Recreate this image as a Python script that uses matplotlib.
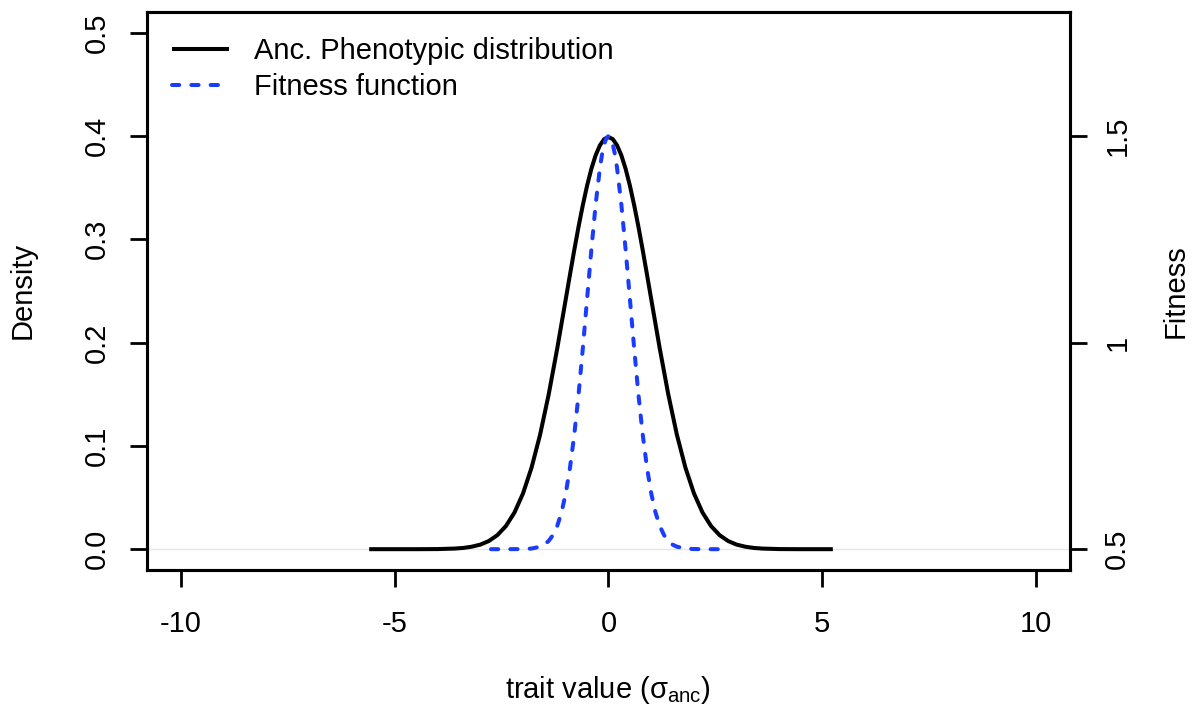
import numpy as np
import matplotlib
matplotlib.use("Agg")
from matplotlib import pyplot as plt

# ancestral phenotypic distribution (density)
anc_x = [-5.6, -4.5, -4.0, -3.6, -3.4, -3.2, -3.0, -2.8, -2.6, -2.4, -2.2, -2.0,
         -1.8, -1.6, -1.4, -1.2, -1.0, -0.9, -0.8, -0.7, -0.6, -0.5, -0.4, -0.3, -0.2, -0.1, 0.0,
         0.1, 0.2, 0.3, 0.4, 0.5, 0.6, 0.7, 0.8, 0.9, 1.0, 1.2, 1.4, 1.6, 1.8, 2.0, 2.2, 2.4,
         2.6, 2.8, 3.0, 3.2, 3.4, 3.6, 4.0, 4.5, 5.25]
anc_density = [0.0, 0.0, 0.0001, 0.0006, 0.0012, 0.0024, 0.0044, 0.0079, 0.0136, 0.0224, 0.0355, 0.054,
               0.079, 0.1109, 0.1497, 0.1942, 0.242, 0.2661, 0.2897, 0.3123, 0.3332, 0.3521, 0.3683,
               0.3814, 0.391, 0.397, 0.3989,
               0.397, 0.391, 0.3814, 0.3683, 0.3521, 0.3332, 0.3123, 0.2897, 0.2661, 0.242, 0.1942,
               0.1497, 0.1109, 0.079, 0.054, 0.0355, 0.0224,
               0.0136, 0.0079, 0.0044, 0.0024, 0.0012, 0.0006, 0.0001, 0.0, 0.0]

# fitness function (right axis)
fit_x = [-2.75, -2.4, -2.0, -1.8, -1.6, -1.5, -1.4, -1.3, -1.2, -1.1, -1.0, -0.9, -0.8, -0.7,
         -0.6, -0.5, -0.4, -0.3, -0.2, -0.15, -0.1, -0.05, 0.0, 0.05, 0.1, 0.15, 0.2, 0.3, 0.4,
         0.5, 0.6, 0.7, 0.8, 0.9, 1.0, 1.1, 1.2, 1.3, 1.4, 1.5, 1.6, 1.8, 2.0, 2.4, 2.83]
fitness = [0.5, 0.5, 0.5003, 0.5015, 0.506, 0.511, 0.52, 0.534, 0.556, 0.589, 0.635, 0.698, 0.778, 0.875,
           0.987, 1.107, 1.226, 1.335, 1.423, 1.456, 1.48, 1.495, 1.5, 1.495, 1.48, 1.456, 1.423, 1.335,
           1.226, 1.107, 0.987, 0.875, 0.778, 0.698, 0.635, 0.589, 0.556, 0.534, 0.52, 0.511, 0.506,
           0.5015, 0.5003, 0.5, 0.5]

x_ticks = [-10, -5, 0, 5, 10]
dens_ticks = [0.0, 0.1, 0.2, 0.3, 0.4, 0.5]
fit_ticks = [0.5, 1.0, 1.5]
fit_labels = ["0.5", "1", "1.5"]

plt.rcParams['font.family'] = ['Liberation Sans', 'DejaVu Sans']
plt.rcParams['mathtext.fontset'] = 'custom'
plt.rcParams['mathtext.rm'] = 'Liberation Sans'
plt.rcParams['mathtext.it'] = 'Liberation Sans:italic'

fs = 21
blue = '#1a3cff'
lw = 2.9

fig = plt.figure(figsize=(11.93, 7.07), dpi=100)
ax = fig.add_axes([0.1232, 0.194, 0.8969 - 0.1232, 0.983 - 0.194])
ax2 = ax.twinx()

ylim = (-0.02, 0.52)
ax.set_xlim(-10.8, 10.8)
ax.set_ylim(*ylim)
# fitness 0.5 -> density 0, fitness 1.5 -> density 0.4
ax2.set_ylim(0.5 + ylim[0] / 0.4, 0.5 + ylim[1] / 0.4)

ax.axhline(0, color='#e6e6e6', lw=1, zorder=1)
l1, = ax.plot(anc_x, anc_density, color='black', lw=lw, zorder=3,
              solid_capstyle='butt', solid_joinstyle='round')
l2, = ax2.plot(fit_x, fitness, color=blue, lw=lw, zorder=3,
               dashes=(1.8, 3.0), dash_capstyle='round')

ax.set_xticks(x_ticks)
ax.set_xticklabels([str(t) for t in x_ticks])
ax.set_yticks(dens_ticks)
ax.set_yticklabels(["%.1f" % t for t in dens_ticks], rotation=90, va='center')
ax2.set_yticks(fit_ticks)
ax2.set_yticklabels(fit_labels, rotation=90, va='center')

ax.tick_params(axis='x', length=12, width=2, labelsize=fs, pad=17)
ax.tick_params(axis='y', length=12, width=2, labelsize=fs, pad=14)
ax2.tick_params(axis='y', length=12, width=2, labelsize=fs, pad=12)

for a in (ax, ax2):
    for s in a.spines.values():
        s.set_linewidth(2.2)

ax.set_xlabel(r'trait value (σ$_{\mathrm{anc}}$)', fontsize=fs, labelpad=26)
ax.set_ylabel('Density', fontsize=fs, labelpad=33)
ax2.set_ylabel('Fitness', fontsize=fs, labelpad=22)

ax.legend([l1, l2], ['Anc. Phenotypic distribution', 'Fitness function'],
          loc='upper left', bbox_to_anchor=(0.0, 1.0), frameon=False, fontsize=fs,
          handlelength=1.95, handletextpad=0.86, labelspacing=0.28, borderaxespad=0.45)

fig.savefig('out.png', dpi=100)
